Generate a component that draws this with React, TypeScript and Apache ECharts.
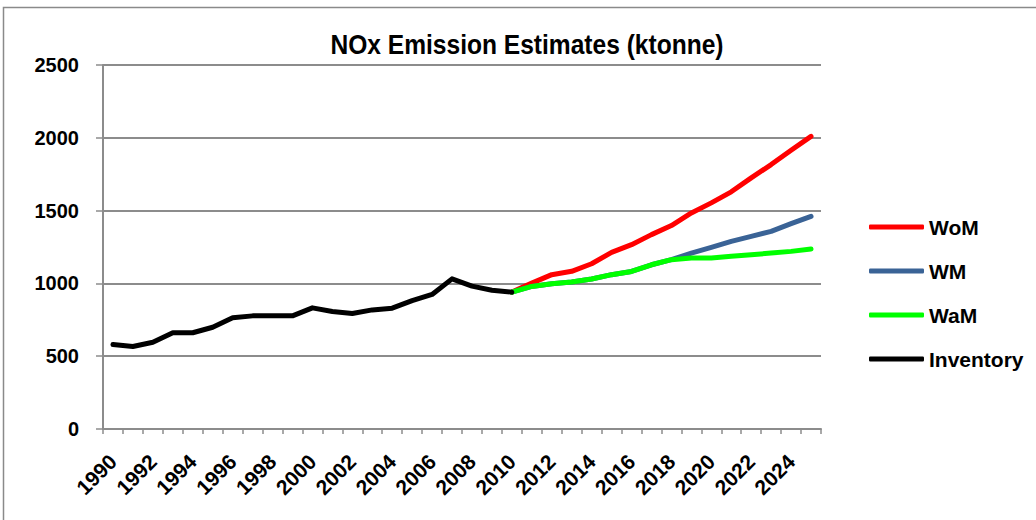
import React, { useEffect, useRef } from "react";
import * as echarts from "echarts";

// Years on the category axis
const years: string[] = [
  "1990", "1991", "1992", "1993", "1994", "1995", "1996", "1997", "1998",
  "1999", "2000", "2001", "2002", "2003", "2004", "2005", "2006", "2007",
  "2008", "2009", "2010", "2011", "2012", "2013", "2014", "2015", "2016",
  "2017", "2018", "2019", "2020", "2021", "2022", "2023", "2024", "2025",
];

// Historic inventory, 1990–2010 (ktonne)
const inventory: number[] = [
  580, 567, 596, 661, 661, 699, 764, 777, 777, 777, 832, 807, 793, 818, 830,
  882, 924, 1031, 981, 953, 940,
];

// Projections, 2010–2025 (ktonne)
const withoutMeasures: number[] = [
  940, 1002, 1060, 1083, 1135, 1213, 1266, 1335, 1397, 1484, 1553, 1629, 1725,
  1816, 1915, 2010,
];
const withMeasures: number[] = [
  940, 979, 998, 1009, 1030, 1060, 1082, 1128, 1163, 1208, 1247, 1289, 1323,
  1357, 1410, 1460,
];
const withAdditionalMeasures: number[] = [
  940, 979, 998, 1009, 1030, 1060, 1082, 1128, 1163, 1174, 1174, 1186, 1197,
  1208, 1220, 1236,
];

const yTicks = { min: 0, max: 2500, interval: 500 };

const chartTitle = "NOx Emission Estimates (ktonne)";

const FONT = "'Liberation Sans', Arial, sans-serif";

// Projection series start where the inventory ends
const projectionStart = years.indexOf("2010");
const pad = (vals: number[]) =>
  (new Array(projectionStart).fill(null) as (number | null)[]).concat(vals);

export default function App() {
  const ref = useRef<HTMLDivElement>(null);

  useEffect(() => {
    if (!ref.current) return;
    const chart = echarts.init(ref.current, null, { renderer: "svg" });

    const lineSeries = (name: string, data: (number | null)[], color: string) => ({
      name,
      type: "line",
      data,
      symbol: "none",
      showSymbol: false,
      connectNulls: false,
      itemStyle: { color },
      lineStyle: { color, width: 5, cap: "round", join: "round" },
    });

    chart.setOption({
      animation: false,
      backgroundColor: "#ffffff",
      legend: {
        orient: "vertical",
        left: 864,
        top: 210,
        icon: "roundRect",
        itemWidth: 55,
        itemHeight: 5,
        itemGap: 20,
        data: ["WoM", "WM", "WaM", "Inventory"],
        textStyle: {
          fontFamily: FONT,
          fontWeight: "bold",
          fontSize: 21,
          lineHeight: 24,
          color: "#000",
        },
      },
      grid: { left: 103, right: 215, top: 65, bottom: 91, containLabel: false },
      xAxis: {
        type: "category",
        data: years,
        boundaryGap: true,
        axisLine: { show: true, lineStyle: { color: "#8c8c8c", width: 2 } },
        axisTick: {
          show: true,
          interval: 0,
          length: 5,
          lineStyle: { color: "#8c8c8c", width: 1.5 },
        },
        axisLabel: {
          interval: 1,
          rotate: 45,
          margin: 29,
          fontFamily: FONT,
          fontWeight: "bold",
          fontSize: 21,
          color: "#000",
        },
        splitLine: { show: false },
      },
      yAxis: {
        type: "value",
        min: yTicks.min,
        max: yTicks.max,
        interval: yTicks.interval,
        axisLine: { show: true, lineStyle: { color: "#8c8c8c", width: 2 } },
        axisTick: {
          show: true,
          length: 7,
          lineStyle: { color: "#8c8c8c", width: 1.5 },
        },
        axisLabel: {
          margin: 24,
          fontFamily: FONT,
          fontWeight: "bold",
          fontSize: 20,
          color: "#000",
          formatter: (v: number) => String(v),
        },
        splitLine: { show: true, lineStyle: { color: "#8c8c8c", width: 2 } },
      },
      graphic: [
        {
          type: "rect",
          shape: { x: 3.5, y: 7.5, width: 1100, height: 600 },
          style: { fill: "none", stroke: "#8a8a8a", lineWidth: 1.5 },
          silent: true,
        },
        {
          // condensed bold title
          type: "text",
          x: 527,
          y: 45,
          scaleX: 0.91,
          silent: true,
          style: {
            text: chartTitle,
            fill: "#000",
            font: `bold 27px ${FONT}`,
            align: "center",
            verticalAlign: "middle",
          },
        },
      ],
      series: [
        lineSeries("WoM", pad(withoutMeasures), "#ff0000"),
        lineSeries("WM", pad(withMeasures), "#3a6396"),
        lineSeries("WaM", pad(withAdditionalMeasures), "#00ff00"),
        lineSeries("Inventory", inventory, "#000000"),
      ],
    });

    return () => chart.dispose();
  }, []);

  return (
    <div
      ref={ref}
      style={{ position: "fixed", left: 0, top: 0, width: 1036, height: 520, background: "#fff" }}
    />
  );
}
